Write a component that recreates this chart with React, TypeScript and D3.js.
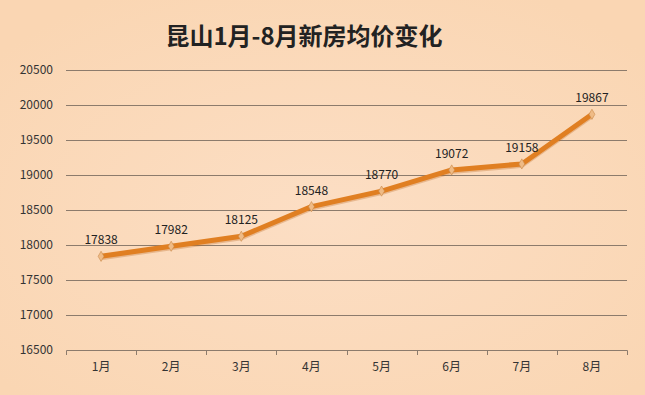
import React, { useRef, useEffect } from "react";
import * as d3 from "d3";

const months = ["1月", "2月", "3月", "4月", "5月", "6月", "7月", "8月"];
const prices = [17838, 17982, 18125, 18548, 18770, 19072, 19158, 19867];
const yTicks = [16500, 17000, 17500, 18000, 18500, 19000, 19500, 20000, 20500];
const title = "昆山1月-8月新房均价变化";

const App = () => {
  const ref = useRef<SVGSVGElement>(null);

  useEffect(() => {
    const svg = d3.select(ref.current);
    svg.selectAll("*").remove();

    const width = 645;
    const height = 395;
    const margin = { top: 70, left: 66, bottom: 45, right: 18 };
    const iwidth = width - margin.left - margin.right;
    const iheight = height - margin.top - margin.bottom;
    const font = "'Noto Sans CJK SC', 'Noto Sans', sans-serif";

    const defs = svg.append("defs");
    const grad = defs
      .append("radialGradient")
      .attr("id", "bg")
      .attr("cx", "50%")
      .attr("cy", "55%")
      .attr("r", "65%");
    grad.append("stop").attr("offset", "0%").attr("stop-color", "#fcdec4");
    grad.append("stop").attr("offset", "100%").attr("stop-color", "#fad6b3");

    svg
      .append("rect")
      .attr("width", width)
      .attr("height", height)
      .attr("fill", "url(#bg)");

    svg
      .append("text")
      .attr("x", 304)
      .attr("y", 45)
      .attr("text-anchor", "middle")
      .attr("font-family", font)
      .attr("font-weight", "bold")
      .attr("font-size", 24)
      .attr("fill", "#222")
      .text(title);

    const g = svg
      .append("g")
      .attr("transform", `translate(${margin.left},${margin.top})`);

    const y = d3.scaleLinear().domain([16500, 20500]).range([iheight, 0]);
    const x = d3.scaleBand().domain(months).range([0, iwidth]).padding(0);

    // gridlines
    g.selectAll("line.grid")
      .data(yTicks.slice(1))
      .enter()
      .append("line")
      .attr("class", "grid")
      .attr("x1", 0)
      .attr("x2", iwidth)
      .attr("y1", (d) => Math.round(y(d)) + 0.5)
      .attr("y2", (d) => Math.round(y(d)) + 0.5)
      .attr("stroke", "#8c7b6c")
      .attr("stroke-width", 1);

    g.selectAll("text.ylab")
      .data(yTicks)
      .enter()
      .append("text")
      .attr("class", "ylab")
      .attr("x", -13)
      .attr("y", (d) => y(d))
      .attr("dy", "0.35em")
      .attr("text-anchor", "end")
      .attr("font-family", font)
      .attr("font-size", 12)
      .attr("fill", "#333")
      .text((d) => d);

    // x axis
    const xAxis = g
      .append("g")
      .attr("transform", `translate(0,${iheight})`)
      .call(d3.axisBottom(x).tickSize(0).tickPadding(12));
    xAxis.select(".domain").attr("stroke", "#8c7b6c").attr("d", `M0.5,5V0.5H${iwidth + 0.5}V5`);
    xAxis
      .selectAll("text")
      .attr("font-family", font)
      .attr("font-size", 12)
      .attr("fill", "#333");
    xAxis
      .selectAll("line.bnd")
      .data(months.slice(1))
      .enter()
      .append("line")
      .attr("class", "bnd")
      .attr("x1", (d) => Math.round(x(d)!) + 0.5)
      .attr("x2", (d) => Math.round(x(d)!) + 0.5)
      .attr("y1", 0)
      .attr("y2", 5)
      .attr("stroke", "#8c7b6c");

    const cx = (i: number) => x(months[i])! + x.bandwidth() / 2;

    const line = d3
      .line<number>()
      .x((d, i) => cx(i))
      .y((d) => y(d));

    g.append("path")
      .datum(prices)
      .attr("d", line)
      .attr("fill", "none")
      .attr("stroke", "#b8641c")
      .attr("stroke-opacity", 0.3)
      .attr("stroke-width", 5)
      .attr("transform", "translate(0,1.5)");

    g.append("path")
      .datum(prices)
      .attr("d", line)
      .attr("fill", "none")
      .attr("stroke", "#e07f22")
      .attr("stroke-width", 5)
      .attr("stroke-linejoin", "round");

    g.selectAll("path.mark")
      .data(prices)
      .enter()
      .append("path")
      .attr("class", "mark")
      .attr("d", d3.symbol(d3.symbolDiamond, 30)())
      .attr("transform", (d, i) => `translate(${cx(i)},${y(d)})`)
      .attr("fill", "#efbb86")
      .attr("stroke", "#c98a4a")
      .attr("stroke-width", 0.6);

    g.selectAll("text.val")
      .data(prices)
      .enter()
      .append("text")
      .attr("class", "val")
      .attr("x", (d, i) => cx(i))
      .attr("y", (d) => y(d) - 12)
      .attr("text-anchor", "middle")
      .attr("font-family", font)
      .attr("font-size", 12)
      .attr("fill", "#222")
      .text((d) => d);
  }, []);

  return (
    <svg
      ref={ref}
      width={645}
      height={395}
      style={{ position: "absolute", left: 0, top: 0 }}
    ></svg>
  );
};

export default App;
